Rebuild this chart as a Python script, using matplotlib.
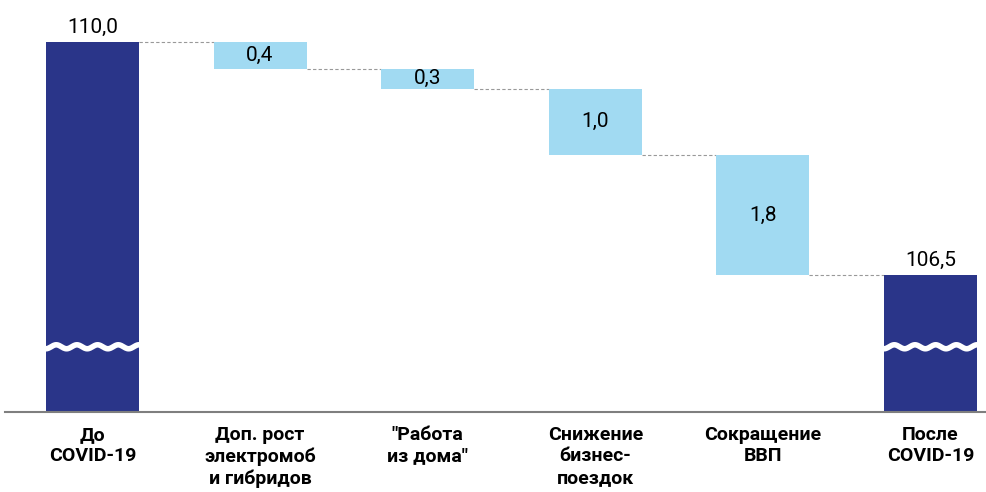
import numpy as np
import matplotlib
matplotlib.use('Agg')
import matplotlib.pyplot as plt

plt.rcParams['font.family'] = ['Roboto', 'DejaVu Sans']

labels = ['До\nCOVID-19', 'Доп. рост\nэлектромоб\nи гибридов', '"Работа\nиз дома"',
          'Снижение\nбизнес-\nпоездок', 'Сокращение\nВВП', 'После\nCOVID-19']
start = 110.0
changes = [0.4, 0.3, 1.0, 1.8]
end = 106.5

dark = '#2a3589'
light = '#a1daf2'
ymin, ymax = 104.44, 110.63
width = 0.555

fig = plt.figure(figsize=(9.87, 4.92), dpi=100)
ax = fig.add_axes([0.005, 0.1626, 0.995, 0.8374])
ax.set_xlim(-0.522, 5.337)
ax.set_ylim(ymin, ymax)

x = np.arange(len(labels))

# total bars
ax.bar(x[0], start - ymin, bottom=ymin, width=width, color=dark, zorder=2)
ax.bar(x[-1], end - ymin, bottom=ymin, width=width, color=dark, zorder=2)
ax.text(x[0], start + 0.08, f'{start:.1f}'.replace('.', ','), ha='center', va='bottom', fontsize=15)
ax.text(x[-1], end + 0.08, f'{end:.1f}'.replace('.', ','), ha='center', va='bottom', fontsize=15)

# step bars
level = start
for i, c in enumerate(changes, start=1):
    ax.bar(x[i], c, bottom=level - c, width=width, color=light, zorder=2)
    ax.text(x[i], level - c / 2, f'{c:.1f}'.replace('.', ','), ha='center', va='center', fontsize=15)
    # connector from previous bar
    ax.plot([x[i - 1] + width / 2, x[i] - width / 2], [level, level],
            color='#999999', lw=0.8, ls=(0, (3, 2)), zorder=1)
    level -= c
ax.plot([x[-2] + width / 2, x[-1] - width / 2], [level, level],
        color='#999999', lw=0.8, ls=(0, (3, 2)), zorder=1)

# axis break wave on the total bars
ybreak = 105.42
for xc in (x[0], x[-1]):
    xs = np.linspace(xc - width / 2 - 0.01, xc + width / 2 + 0.01, 200)
    ys = ybreak + 0.03 * np.sin((xs - xc) / width * 2 * np.pi * 4.5)
    ax.plot(xs, ys, color='white', lw=4, zorder=3, solid_capstyle='butt')

for s in ['top', 'right', 'left']:
    ax.spines[s].set_visible(False)
ax.spines['bottom'].set_color('#7f7f7f')
ax.spines['bottom'].set_linewidth(1.5)
ax.set_yticks([])
ax.set_xticks(x)
ax.set_xticklabels(labels, fontsize=14, fontweight='bold', linespacing=1.25)
ax.tick_params(axis='x', length=0, pad=10)

fig.savefig('out.png', dpi=100)
